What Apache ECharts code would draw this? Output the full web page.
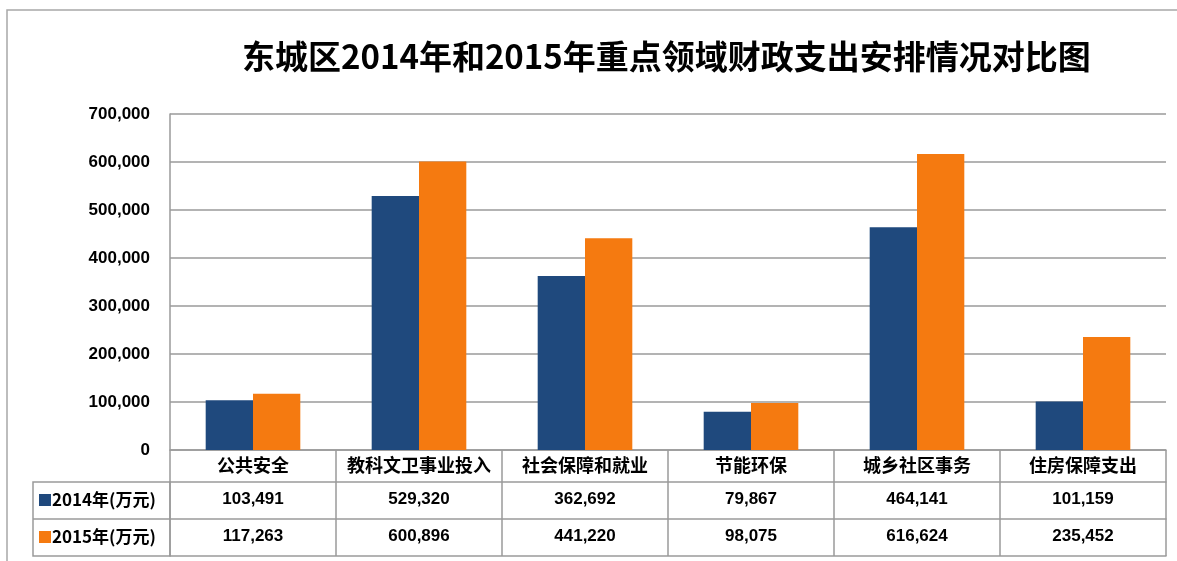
<!DOCTYPE html>
<html>
<head>
<meta charset="utf-8">
<script src="https://cdn.jsdelivr.net/npm/echarts@6/dist/echarts.min.js"></script>
<style>
  html, body { margin: 0; padding: 0; background: #fff; }
  #main { width: 1177px; height: 561px; }
</style>
</head>
<body>
<div id="main"></div>
<script>
// data
let categories = ['公共安全', '教科文卫事业投入', '社会保障和就业', '节能环保', '城乡社区事务', '住房保障支出'];
let values_2014 = [103491, 529320, 362692, 79867, 464141, 101159];
let values_2015 = [117263, 600896, 441220, 98075, 616624, 235452];
let series_names = ['2014年(万元)', '2015年(万元)'];
let colors = ['#1F497D', '#F57A10'];

let line_color = '#9a9a9a';

function fmt(v) {
    return v.toLocaleString('en-US');
}

var chartDom = document.getElementById('main');
var myChart = echarts.init(chartDom);

// one extra x axis per table row, labels come from the value arrays
function table_axis(values, offset) {
    return {
        type: 'category',
        data: categories,
        position: 'bottom',
        offset: offset,
        axisLine: { show: true, lineStyle: { color: line_color, width: 1.5 } },
        axisTick: { show: false },
        axisLabel: {
            interval: 0,
            margin: 9,
            color: '#000',
            fontSize: 17,
            fontWeight: 'bold',
            fontFamily: 'Liberation Sans',
            formatter: function (v, i) { return fmt(values[i]); }
        }
    };
}

var option = {
    animation: false,
    title: {
        text: '东城区2014年和2015年重点领域财政支出安排情况对比图',
        left: 237,
        top: 35,
        textStyle: {
            fontFamily: 'Noto Sans CJK SC',
            fontSize: 33,
            fontWeight: 'bold',
            color: '#000'
        }
    },
    grid: { left: 170, right: 11, top: 114, bottom: 111 },
    xAxis: [
        {
            type: 'category',
            data: categories,
            axisLine: { show: true, lineStyle: { color: line_color, width: 1.5 } },
            axisTick: { show: true, interval: 0, length: 106, lineStyle: { color: line_color, width: 1.5 } },
            axisLabel: {
                interval: 0,
                margin: 6,
                color: '#000',
                fontSize: 18,
                fontWeight: 'bold',
                fontFamily: 'Noto Sans CJK SC'
            }
        },
        table_axis(values_2014, 32),
        table_axis(values_2015, 69),
        {
            type: 'category',
            data: categories,
            position: 'bottom',
            offset: 106,
            axisLine: { show: true, lineStyle: { color: line_color, width: 1.5 } },
            axisTick: { show: false },
            axisLabel: { show: false }
        }
    ],
    yAxis: {
        type: 'value',
        min: 0,
        max: 700000,
        interval: 100000,
        axisLine: { show: true, lineStyle: { color: line_color, width: 1.5 } },
        axisTick: { show: false },
        splitLine: { lineStyle: { color: line_color, width: 1.5 } },
        axisLabel: {
            margin: 20,
            color: '#000',
            fontSize: 17,
            fontWeight: 'bold',
            fontFamily: 'Liberation Sans',
            formatter: function (v) { return fmt(v); }
        }
    },
    series: [
        {
            name: series_names[0],
            type: 'bar',
            data: values_2014,
            itemStyle: { color: colors[0] },
            barGap: '0%',
            barCategoryGap: '43%'
        },
        {
            name: series_names[1],
            type: 'bar',
            data: values_2015,
            itemStyle: { color: colors[1] },
            barGap: '0%',
            barCategoryGap: '43%'
        }
    ],
    graphic: {
        elements: [
            // outer frame
            {
                type: 'rect',
                shape: { x: 7, y: 10, width: 1200, height: 600 },
                style: { fill: 'none', stroke: '#a8a8a8', lineWidth: 1.5 },
                silent: true
            },
            // row header box
            {
                type: 'rect',
                shape: { x: 33, y: 482, width: 137, height: 74 },
                style: { fill: 'none', stroke: line_color, lineWidth: 1.5 },
                silent: true
            },
            {
                type: 'line',
                shape: { x1: 33, y1: 519, x2: 170, y2: 519 },
                style: { stroke: line_color, lineWidth: 1.5 },
                silent: true
            }
        ]
    }
};

// legend keys inside the table rows
for (let i = 0; i < series_names.length; i++) {
    let cy = 500 + i * 37;
    option.graphic.elements.push({
        type: 'rect',
        shape: { x: 39, y: cy - 6, width: 12, height: 12 },
        style: { fill: colors[i] },
        silent: true
    });
    option.graphic.elements.push({
        type: 'text',
        x: 52,
        y: cy,
        style: {
            text: series_names[i],
            fontSize: 17,
            fontWeight: 'bold',
            fontFamily: 'Noto Sans CJK SC',
            fill: '#000',
            verticalAlign: 'middle'
        },
        silent: true
    });
}

myChart.setOption(option);
</script>
</body>
</html>
